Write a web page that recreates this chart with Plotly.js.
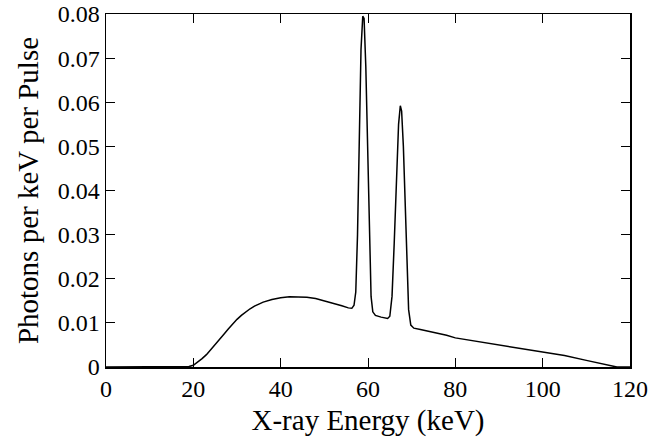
<!DOCTYPE html>
<html>
<head>
<meta charset="utf-8">
<script src="https://cdn.plot.ly/plotly-3.0.1.min.js"></script>
<style>
html,body{margin:0;padding:0;background:#fff;}
#chart{width:669px;height:437px;}
</style>
</head>
<body>
<div id="chart"></div>
<script>
// X-ray energy (keV)
const energy = [0, 18, 19, 20, 21, 22, 23, 24, 25, 26, 27, 28, 29, 30, 31, 32, 33, 34, 35, 36, 38, 40, 42, 44, 46, 48, 50, 52, 54, 55.5, 56.3,
  56.8, 57.2, 57.6, 58.0, 58.4, 58.8, 59.1, 59.5, 59.9, 60.3, 60.7, 61.1, 61.7, 63, 64.5,
  65.0, 65.5, 66.0, 66.5, 67.0, 67.4, 67.7, 68.1, 68.5, 68.9, 69.3, 69.8, 70.5,
  72, 75, 78, 80, 85, 90, 95, 100, 105, 110, 114, 117, 120];
// Photons per keV per pulse
const photons = [0, 0, 0.0001, 0.0004, 0.0011, 0.0019, 0.0028, 0.0039, 0.005, 0.0062, 0.0074, 0.0086, 0.0098, 0.0108, 0.0117, 0.0125, 0.0132, 0.0138, 0.0143, 0.0147, 0.0153, 0.0157, 0.0159, 0.0159, 0.0158, 0.0155, 0.0150, 0.0144, 0.0139, 0.0134, 0.0133,
  0.0140, 0.0170, 0.030, 0.052, 0.072, 0.0795, 0.0790, 0.068, 0.048, 0.028, 0.016, 0.0125, 0.0117, 0.0113, 0.0110,
  0.0115, 0.016, 0.028, 0.044, 0.055, 0.0592, 0.058, 0.050, 0.036, 0.022, 0.013, 0.0095, 0.0088,
  0.0085, 0.0079, 0.0072, 0.0066, 0.0058, 0.0050, 0.0043, 0.0035, 0.0026, 0.0015, 0.0006, 0, 0];
const xTicks = [0, 20, 40, 60, 80, 100, 120];
const yTicks = [0, 0.01, 0.02, 0.03, 0.04, 0.05, 0.06, 0.07, 0.08];
const yTickText = ['0', '0.01', '0.02', '0.03', '0.04', '0.05', '0.06', '0.07', '0.08'];

const trace = {
  x: energy, y: photons, type: 'scatter', mode: 'lines',
  line: {color: '#000', width: 1.5}, hoverinfo: 'skip'
};
const layout = {
  width: 669, height: 437,
  margin: {l: 106, r: 39, t: 14, b: 70},
  paper_bgcolor: '#fff', plot_bgcolor: '#fff',
  showlegend: false,
  font: {family: 'Liberation Serif', color: '#000', size: 24},
  xaxis: {
    range: [0, 120], tickmode: 'array', tickvals: xTicks, ticktext: xTicks.map(String),
    ticks: 'inside', ticklen: 9, tickwidth: 1, tickcolor: '#000',
    showline: true, linecolor: '#000', linewidth: 1.5, mirror: 'allticks',
    showgrid: false, zeroline: false,
    title: {text: 'X-ray Energy (keV)'}
  },
  yaxis: {
    range: [0, 0.08], tickmode: 'array', tickvals: yTicks, ticktext: yTickText,
    ticks: 'inside', ticklen: 9, tickwidth: 1, tickcolor: '#000',
    showline: true, linecolor: '#000', linewidth: 1.5, mirror: 'allticks',
    showgrid: false, zeroline: false,
    title: {text: 'Photons per keV per Pulse'}
  }
};
Plotly.newPlot('chart', [trace], layout, {staticPlot: true, displayModeBar: false});
</script>
</body>
</html>
